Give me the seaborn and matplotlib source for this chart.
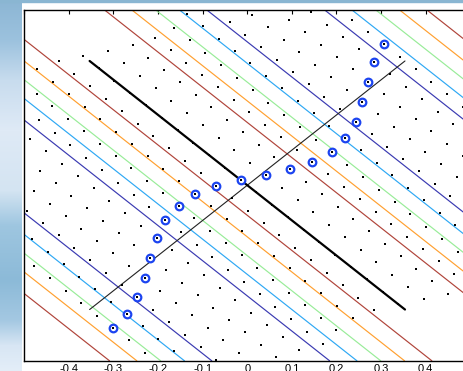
import numpy as np
import matplotlib
matplotlib.use("Agg")
import matplotlib.pyplot as plt
from matplotlib.patches import Rectangle
import seaborn as sns

# blue ringed samples, one per grid row (top right -> bottom left)
marked_x = [0.304, 0.284, 0.270, 0.257, 0.2415, 0.219, 0.188, 0.145, 0.097, 0.041, -0.016,
            -0.071, -0.118, -0.156, -0.185, -0.203, -0.219, -0.230, -0.246, -0.270, -0.302]
marked_y = [0.398, 0.350, 0.293, 0.236, 0.179, 0.134, 0.093, 0.065, 0.046, 0.028, 0.014,
            -0.003, -0.025, -0.060, -0.099, -0.150, -0.208, -0.264, -0.319, -0.366, -0.407]

# sample grid: rows run along (1,-1), 0.05 apart in the rotated frame
row_index = np.arange(-10, 11)
grid_step = 0.05
# edges of the sampled band across the rows (rotated frame)
band_lo, band_hi, band_slope, band_floor = -0.545, 0.5, 0.4, 0.47

# contour field: a cosine wave along x+y
wave_period = 0.987
wave_peak = 0.0465
contour_levels = [-2 / 3, -1 / 3, 0, 1 / 3, 2 / 3]
contour_colors = ["#3a3ab2", "#2ea8f4", "#98ec98", "#ffa030", "#b0443a"]

# the two diagonal axes, extent in the rotated frame
axis_extent = [-0.5, 0.5]

tick_values = [-0.5, -0.4, -0.3, -0.2, -0.1, 0, 0.1, 0.2, 0.3, 0.4, 0.5]
x_tick_labels = ["", "-0.4", "-0.3", "-0.2", "-0.1", "0", "0.1", "0.2", "0.3", "0.4", "0.5"]


def to_rot(x, y):
    x, y = np.asarray(x), np.asarray(y)
    return (x + y) / np.sqrt(2), (x - y) / np.sqrt(2)


def from_rot(u, v):
    u, v = np.asarray(u), np.asarray(v)
    return (u + v) / np.sqrt(2), (u - v) / np.sqrt(2)


def build_grid():
    mu, mv = to_rot(marked_x, marked_y)
    rows = np.round(mu / grid_step).astype(int)
    gu, gv = [], []
    for k in row_index:
        u = k * grid_step
        offset = mv[rows == k][0]   # each row runs through its ringed sample
        lo = band_lo + band_slope * u
        hi = max(band_floor, band_hi + band_slope * u)
        n0 = np.ceil((lo - offset) / grid_step)
        n1 = np.floor((hi - offset) / grid_step)
        v = offset + grid_step * np.arange(n0, n1 + 1)
        gu.extend([u] * len(v))
        gv.extend(v)
    gx, gy = from_rot(gu, gv)
    # ringed samples snapped onto their rows
    rx, ry = from_rot(rows * grid_step, mv)
    return gx, gy, rx, ry


def draw_background(fig):
    # blurred desktop strip at the left and top of the screenshot
    stops_y = [0, 40, 80, 130, 190, 225, 280, 320, 345, 371]
    stops_c = ["#8cb6d4", "#9cc2de", "#c8dcee", "#dfeaf6", "#d4e4f2",
               "#9ec6e0", "#8cbad8", "#a4c8e2", "#d8e6f4", "#e4eef8"]
    rgb = np.array([matplotlib.colors.to_rgb(c) for c in stops_c])
    ys = np.arange(371)
    col = np.stack([np.interp(ys, stops_y, rgb[:, i]) for i in range(3)], axis=1)
    bg = fig.add_axes([0, 0, 22 / 464, 1])
    bg.imshow(col[:, None, :], aspect="auto")
    bg.axis("off")
    fig.patches.append(Rectangle((0, 1 - 2 / 371), 1, 2 / 371, transform=fig.transFigure,
                                 color="#8ab6d2", zorder=0))


def main():
    sns.set_style("white")
    plt.rcParams["font.family"] = ["Liberation Sans", "DejaVu Sans"]

    fig = plt.figure(figsize=(4.64, 3.71), dpi=100, facecolor="white")
    draw_background(fig)
    ax = fig.add_axes([24.3 / 464, 10 / 371, 446 / 464, 351.5 / 371])
    ax.set_facecolor("white")

    xs = np.linspace(-0.5, 0.5, 401)
    X, Y = np.meshgrid(xs, xs)
    Z = np.cos(2 * np.pi * (X + Y - wave_peak) / wave_period)
    ax.contour(X, Y, Z, levels=contour_levels, colors=contour_colors,
               linewidths=0.85, zorder=1)

    gx, gy, rx, ry = build_grid()

    # principal axis (thin) and its normal (thick)
    ex = np.array(axis_extent)
    tx, ty = from_rot(ex, [0, 0])
    ax.plot(tx, ty, color="#222222", lw=0.8, zorder=2)
    nx, ny = from_rot([0, 0], ex)
    ax.plot(nx, ny, color="black", lw=1.6, zorder=2)

    sns.scatterplot(x=rx, y=ry, ax=ax, marker="o", s=30, color="white",
                    edgecolor="#1c44f0", linewidth=1.6, zorder=3, legend=False)
    sns.scatterplot(x=gx, y=gy, ax=ax, marker="s", s=4.2, color="black",
                    linewidth=0, zorder=4, legend=False)

    ax.set_xlim(-0.5, 0.5)
    ax.set_ylim(-0.5, 0.5)
    ax.set_xticks(tick_values)
    ax.set_xticklabels(x_tick_labels)
    ax.set_yticks(tick_values)
    ax.set_yticklabels([])
    ax.set_xlabel("")
    ax.set_ylabel("")
    ax.tick_params(direction="in", length=2.8, width=0.8, top=True, right=True,
                   labelsize=8, pad=2, colors="black")
    for s in ax.spines.values():
        s.set_color("black")
        s.set_linewidth(1.0)

    fig.savefig("out.png", dpi=100, facecolor="white")


if __name__ == "__main__":
    main()
